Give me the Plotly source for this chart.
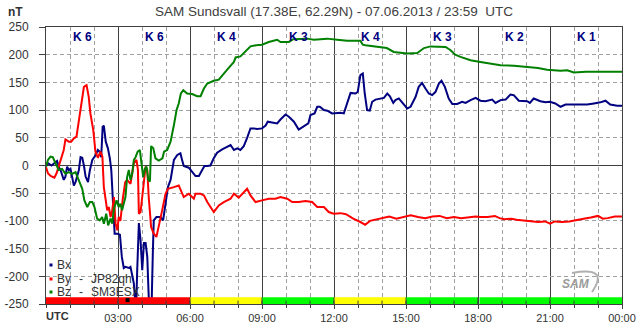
import plotly.graph_objects as go

# ---------------- data (hours UTC, nT) ----------------
bx_t = [0.0, 0.09, 0.23, 0.35, 0.46, 0.53, 0.62, 0.74, 0.81, 0.88, 0.95, 1.02, 1.1, 1.16, 1.23, 1.30, 1.37,
        1.44, 1.51, 1.58, 1.65, 1.75, 1.83, 1.93, 2.0, 2.06, 2.16, 2.23, 2.30, 2.33, 2.36, 2.41, 2.49, 2.58,
        2.66, 2.72, 2.77, 2.83, 2.86, 2.97, 3.08, 3.16, 3.24, 3.31, 3.45, 3.52, 3.60, 3.66, 3.73, 3.76, 3.80,
        3.87, 3.94, 4.01, 4.08, 4.15, 4.22, 4.28, 4.35, 4.40, 4.45, 4.49, 4.6, 4.77, 4.88, 4.98, 5.08, 5.19,
        5.33, 5.47, 5.6, 5.67, 5.74, 5.95, 6.09, 6.23, 6.37, 6.51, 6.6, 6.72, 6.85, 6.99, 7.13, 7.34, 7.55,
        7.69, 7.83, 7.97, 8.1, 8.24, 8.38, 8.52, 8.66, 8.8, 9.0, 9.15, 9.24, 9.42, 9.63, 9.77, 9.98, 10.12,
        10.33, 10.53, 10.74, 10.93, 11.02, 11.19, 11.3, 11.41, 11.58, 11.72, 11.92, 12.27, 12.41, 12.55,
        12.69, 12.9, 12.99, 13.1, 13.2, 13.28, 13.38, 13.49, 13.59, 13.73, 13.94, 14.08, 14.22, 14.33, 14.47,
        14.56, 14.7, 14.84, 15.05, 15.19, 15.4, 15.53, 15.67, 15.81, 15.95, 16.09, 16.23, 16.37, 16.48,
        16.62, 16.78, 16.93, 17.13, 17.34, 17.48, 17.69, 17.9, 18.1, 18.31, 18.59, 18.73, 18.94, 19.15,
        19.35, 19.49, 19.7, 20.05, 20.16, 20.32, 20.6, 20.81, 21.0, 21.22, 21.44, 21.65, 21.99, 22.55, 22.83,
        23.1, 23.31, 23.51, 23.8, 24.0]
bx_v = [-1, 4, 0, 4, 8, -2, -10, -26, -20, -2, -8, -6, -20, -36, -30, -20, -8,
        15, 14, 0, -20, -30, -8, 10, 15, 18, 28, 25, 15, 50, 70, 72, 43, 31,
        13, -8, -45, -81, -123, -123, -125, -165, -185, -183, -185, -183, -200, -213, -252, -252, -189,
        -104, -135, -189, -140, -140, -165, -237, -252, -252, -160, -99, -93, -93, -99, -68, -39, -26,
        10, 19, 22, 10, -1, -4, -11, -19, -19, -8, -1, -1, 0, 13, 23, 29, 34,
        37, 28, 31, 28, 35, 50, 67, 67, 66, 67, 72, 79, 77, 76, 83, 92, 88,
        79, 65, 70, 76, 91, 94, 106, 106, 100, 99, 94, 95, 94, 112,
        131, 130, 133, 163, 166, 130, 100, 99, 115, 119, 120, 122, 130, 125, 113,
        118, 121, 113, 103, 106, 124, 142, 149, 139, 130, 127, 133, 148, 153,
        142, 121, 111, 111, 115, 113, 118, 122, 117, 116, 119, 113, 118, 119,
        128, 127, 117, 116, 113, 121, 116, 114, 115, 112, 106, 110, 110, 110, 112,
        114, 117, 110, 108, 108]

by_t = [0.0, 0.08, 0.19, 0.35, 0.44, 0.53, 0.63, 0.74, 0.81, 0.95, 1.05, 1.16, 1.27, 1.37, 1.47, 1.58,
        1.69, 1.78, 1.85, 1.97, 2.06, 2.16, 2.27, 2.35, 2.41, 2.49, 2.55, 2.62, 2.69, 2.76, 2.83, 2.90,
        2.97, 3.03, 3.10, 3.2, 3.3, 3.38, 3.52, 3.66, 3.77, 3.83, 3.87, 3.94, 4.01, 4.08, 4.15, 4.22,
        4.28, 4.38, 4.49, 4.6, 4.7, 4.84, 4.98, 5.08, 5.33, 5.53, 5.74, 5.95, 6.16, 6.23, 6.44, 6.58,
        6.72, 6.99, 7.2, 7.41, 7.69, 7.83, 8.03, 8.17, 8.38, 8.52, 8.73, 9.0, 9.28, 9.56, 9.77, 10.05,
        10.26, 10.53, 10.81, 11.09, 11.3, 11.58, 11.78, 11.99, 12.27, 12.5, 12.8, 13.1, 13.3, 13.5, 13.8,
        14.0, 14.3, 14.6, 14.9, 15.2, 15.5, 15.8, 16.1, 16.4, 16.7, 17.0, 17.3, 17.6, 17.9, 18.1, 18.4,
        18.7, 18.9, 19.1, 19.4, 19.6, 19.9, 20.2, 20.5, 20.8, 21.0, 21.2, 21.5, 21.8, 22.1, 22.4, 22.7,
        23.0, 23.2, 23.4, 23.7, 24.0]
by_v = [-3, -14, -19, -22, -14, -2, 10, 28, 47, 43, 43, 49, 52, 82, 115, 142,
        145, 124, 94, 64, 25, 14, 25, 16, -39, -63, -81, -75, -93, -81, -57, -105,
        -117, -93, -100, -60, -30, -26, -33, 4, 10, -8, -87, -84, -57, -36, -2, -8,
        -57, -111, -123, -129, -111, -81, -51, -42, -39, -36, -57, -51, -60, -51, -51, -54,
        -66, -84, -72, -66, -60, -51, -58, -51, -42, -54, -66, -63, -60, -60, -57, -60,
        -66, -66, -64, -66, -75, -75, -84, -87, -86, -88, -96, -102, -107, -100, -97,
        -96, -92, -96, -93, -90, -93, -95, -92, -91, -95, -93, -95, -93, -92, -93, -93,
        -91, -95, -97, -96, -98, -99, -100, -102, -101, -105, -101, -102, -101, -98, -96, -94,
        -91, -96, -95, -92, -92]

bz_t = [0.0, 0.08, 0.19, 0.28, 0.4, 0.53, 0.67, 0.81, 0.95, 1.09, 1.23, 1.37, 1.51, 1.6, 1.72, 1.83,
        1.93, 2.02, 2.13, 2.24, 2.34, 2.41, 2.51, 2.59, 2.69, 2.76, 2.83, 2.94, 3.03, 3.1, 3.17, 3.31,
        3.38, 3.45, 3.52, 3.59, 3.66, 3.73, 3.82, 3.91, 3.98, 4.05, 4.12, 4.19, 4.26, 4.33, 4.38, 4.47,
        4.56, 4.7, 4.85, 4.92, 5.05, 5.19, 5.33, 5.44, 5.53, 5.62, 5.72, 5.88, 6.09, 6.3, 6.44, 6.58,
        6.72, 6.99, 7.2, 7.34, 7.55, 7.83, 7.9, 8.1, 8.3, 8.52, 8.75, 9.0, 9.28, 9.63, 9.77, 10.12, 10.3,
        10.88, 11.16, 11.72, 12.13, 12.55, 13.1, 13.2, 13.31, 13.94, 14.2, 14.49, 15.05, 15.47, 15.75,
        16.02, 16.65, 16.86, 17.05, 17.27, 17.69, 18.1, 18.94, 19.5, 20.05, 20.5, 20.88, 21.44, 21.72,
        21.99, 22.5, 22.96, 23.5, 24.0]
bz_v = [-2, 10, 16, 15, 4, -8, -6, -15, -12, -15, -12, -26, -42, -63, -75, -66,
        -66, -75, -96, -99, -93, -105, -87, -108, -96, -105, -78, -63, -75, -69, -81, -57,
        -21, -8, -26, -15, 10, 15, 25, 28, 4, -21, -6, -2, -26, -29, 35, 31,
        13, 9, 13, 25, 28, 43, 73, 100, 112, 130, 136, 130, 129, 125, 125, 139,
        148, 153, 155, 163, 173, 187, 195, 197, 205, 215, 217, 218, 223, 227, 223, 223, 228,
        229, 227, 229, 227, 225, 225, 218, 217, 214, 212, 205, 202, 203, 212,
        215, 214, 208, 200, 196, 190, 187, 181, 180, 178, 176, 173, 171, 172,
        168, 169, 169, 169, 169]

k_index = [6, 6, 4, 3, 4, 3, 2, 1]
k_colors = ["#FF0000", "#FF0000", "#FFFF00", "#00FF00", "#FFFF00", "#00FF00", "#00FF00", "#00FF00"]
x_tick_vals = [3, 6, 9, 12, 15, 18, 21, 24]
x_tick_text = ["03:00", "06:00", "09:00", "12:00", "15:00", "18:00", "21:00", "00:00"]
y_tick_vals = [250, 200, 150, 100, 50, 0, -50, -100, -150, -200, -250]
y_tick_text = ["250", "200", "150", "100", "50", "0", "-50", "-100", "-150", "-200", "-250"]

FONT = "Liberation Sans, Arial, sans-serif"
TXT = "#333333"
DARK = "#404040"
GRIDC = "#a0a0a0"

W, H = 643, 331
# plot area in window pixels
PL, PR, PT, PB = 46, 622, 27, 304
PW, PH = PR - PL, PB - PT


def px(x):
    return (x - PL) / PW


def py(y):
    return (PB - y) / PH


fig = go.Figure()
fig.add_trace(go.Scatter(x=bx_t, y=bx_v, mode="lines", line=dict(color="#000080", width=2), name="Bx"))
fig.add_trace(go.Scatter(x=by_t, y=by_v, mode="lines", line=dict(color="#FF0000", width=2), name="By"))
fig.add_trace(go.Scatter(x=bz_t, y=bz_v, mode="lines", line=dict(color="#008000", width=2), name="Bz"))

shapes = []
for i, c in enumerate(k_colors):
    x0 = i * 3
    x1 = i * 3 + 3
    if i == 6:
        x0 += 0.06
    shapes.append(dict(type="rect", xref="x", yref="y", x0=x0, x1=x1, y0=-250, y1=-238,
                       fillcolor=c, line=dict(width=0), layer="above"))
for h in range(3, 24, 3):
    shapes.append(dict(type="line", xref="x", yref="y", x0=h, x1=h, y0=-250, y1=-238,
                       line=dict(color=DARK, width=1), layer="above"))
for h in range(1, 24):
    shapes.append(dict(type="line", xref="x", yref="y", x0=h, x1=h, y0=-250, y1=-244,
                       line=dict(color=DARK, width=1), layer="above"))
shapes.append(dict(type="rect", xref="x", yref="y", xsizemode="pixel", ysizemode="pixel",
                   xanchor=3.40, yanchor=-243, x0=-2, x1=2, y0=-2, y1=2,
                   fillcolor="black", line=dict(width=0), layer="above"))

leg_y = [265, 279, 292]
leg_c = ["#000080", "#FF0000", "#008000"]
for yy, c in zip(leg_y, leg_c):
    shapes.append(dict(type="rect", xref="paper", yref="paper", xsizemode="pixel", ysizemode="pixel",
                       xanchor=px(51), yanchor=py(yy), x0=-1.5, x1=1.5, y0=-1.5, y1=1.5,
                       fillcolor=c, line=dict(width=0), layer="above"))

annotations = []
for i, k in enumerate(k_index):
    annotations.append(dict(x=i * 3 + 1.5, y=231.5, xref="x", yref="y", text="<b>K %d</b>" % k,
                            showarrow=False, font=dict(family=FONT, size=12, color="#000080")))

annotations.append(dict(x=px(333.5), y=py(12), xref="paper", yref="paper",
                        text="SAM Sundsvall (17.38E, 62.29N) - 07.06.2013 / 23:59  UTC",
                        showarrow=False, xanchor="center", yanchor="middle",
                        font=dict(family=FONT, size=13.5, color=DARK)))
annotations.append(dict(x=px(15), y=py(12), xref="paper", yref="paper", text="<b>nT</b>",
                        showarrow=False, xanchor="center", yanchor="middle",
                        font=dict(family=FONT, size=12, color=TXT)))
annotations.append(dict(x=px(44), y=py(316), xref="paper", yref="paper", text="<b>UTC</b>",
                        showarrow=False, xanchor="left", yanchor="middle",
                        font=dict(family=FONT, size=11, color=TXT)))

leg_items = [("Bx", "", ""), ("By", "-", "JP82qh"), ("Bz", "-", "SM3ESX")]
for yy, (a, b, c) in zip(leg_y, leg_items):
    annotations.append(dict(x=px(55), y=py(yy), xref="paper", yref="paper", text=a, showarrow=False,
                            xanchor="left", yanchor="middle", font=dict(family=FONT, size=12, color=TXT)))
    if b:
        annotations.append(dict(x=px(77), y=py(yy), xref="paper", yref="paper", text=b, showarrow=False,
                                xanchor="left", yanchor="middle", font=dict(family=FONT, size=12, color=TXT)))
        annotations.append(dict(x=px(89), y=py(yy), xref="paper", yref="paper", text=c, showarrow=False,
                                xanchor="left", yanchor="middle", font=dict(family=FONT, size=12, color=TXT)))

annotations.append(dict(x=px(576), y=py(284), xref="paper", yref="paper",
                        text="<b><i>SAM</i></b>", showarrow=False, xanchor="center", yanchor="middle",
                        font=dict(family=FONT, size=12, color="#9a9a9a")))
shapes.append(dict(type="path", xref="paper", yref="paper",
                   path="M %f %f Q %f %f %f %f" % (px(572), py(273), px(610), py(266), px(592), py(292)),
                   line=dict(color="#b0b0b0", width=2), layer="above"))

fig.update_layout(
    template="none",
    width=W, height=H,
    margin=dict(l=PL, r=W - PR, t=PT, b=H - PB, pad=0, autoexpand=False),
    paper_bgcolor="white", plot_bgcolor="white",
    showlegend=False,
    shapes=shapes, annotations=annotations,
    xaxis=dict(range=[0, 24], tickvals=x_tick_vals, ticktext=x_tick_text, automargin=False,
               showgrid=True, gridcolor=DARK, gridwidth=1,
               ticks="outside", ticklen=4, tickcolor=DARK,
               minor=dict(dtick=1, tick0=0, showgrid=True, gridcolor=GRIDC, griddash="4px,3px",
                          ticks="outside", ticklen=3, tickcolor=DARK),
               showline=True, linecolor=DARK, mirror=True, linewidth=1,
               zeroline=False, fixedrange=True,
               tickfont=dict(family=FONT, size=11, color=TXT)),
    yaxis=dict(range=[-250, 250], tickvals=y_tick_vals, ticktext=y_tick_text, automargin=False,
               showgrid=True, gridcolor=GRIDC, griddash="4px,3px",
               zeroline=True, zerolinecolor=DARK, zerolinewidth=1,
               ticks="outside", ticklen=6, tickcolor=DARK, ticklabelstandoff=8,
               showline=True, linecolor=DARK, mirror=True, linewidth=1, fixedrange=True,
               tickfont=dict(family=FONT, size=12, color=TXT)),
)

fig.write_html("out.html", config={"displayModeBar": False, "staticPlot": True},
               post_script="document.body.style.margin='0';document.body.style.overflow='hidden';")
